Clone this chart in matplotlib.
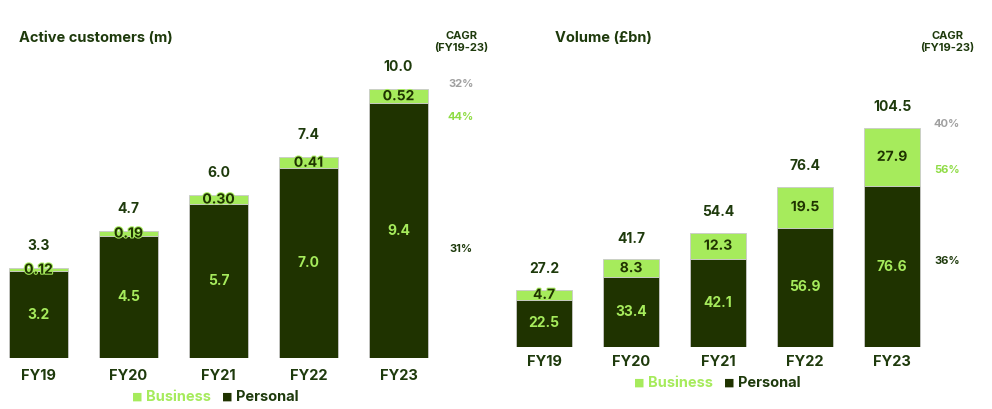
import matplotlib.pyplot as plt
import matplotlib.patheffects as pe
import numpy as np

plt.rcParams['font.family'] = ['Inter', 'DejaVu Sans']

years = ['FY19', 'FY20', 'FY21', 'FY22', 'FY23']

cust_personal = [3.2, 4.5, 5.7, 7.0, 9.4]
cust_business = [0.12, 0.19, 0.30, 0.41, 0.52]
cust_total = ['3.3', '4.7', '6.0', '7.4', '10.0']
cust_cagr = ['32%', '44%', '31%']

vol_personal = [22.5, 33.4, 42.1, 56.9, 76.6]
vol_business = [4.7, 8.3, 12.3, 19.5, 27.9]
vol_total = ['27.2', '41.7', '54.4', '76.4', '104.5']
vol_cagr = ['40%', '56%', '36%']

DARK = '#1f3300'
LIGHT = '#a6eb5c'
TEXT = '#1e3a0c'
GREY = '#a0a0a0'

W, H = 992, 409
fig = plt.figure(figsize=(W / 100, H / 100), dpi=100)


def px_axes(x0, x1, base, top):
    # pixel box (from top-left) -> figure fraction axes
    return fig.add_axes([x0 / W, (H - base) / H, (x1 - x0) / W, (base - top) / H])


def draw_panel(ax, personal, business, totals, width, bfmt, pfmt, total_off, tick_pad):
    x = np.arange(len(years))
    ax.bar(x, personal, width, color=DARK, edgecolor='#c9c9c9', linewidth=0.6)
    ax.bar(x, business, width, bottom=personal, color=LIGHT, edgecolor='#c9c9c9', linewidth=0.6)
    for i in x:
        p, b = personal[i], business[i]
        ax.text(i, p / 2, pfmt.format(p), ha='center', va='center',
                color=LIGHT, fontsize=10, fontweight='bold')
        ax.text(i, p + b / 2, bfmt.format(b), ha='center', va='center',
                color=DARK, fontsize=10, fontweight='bold',
                path_effects=[pe.withStroke(linewidth=1.5, foreground=LIGHT)])
        ax.text(i, p + b + total_off, totals[i], ha='center', va='bottom',
                color=TEXT, fontsize=10, fontweight='bold')
    ax.set_xticks(x)
    ax.set_xticklabels(years, fontsize=10.5, fontweight='bold', color=TEXT)
    ax.tick_params(axis='x', length=0, pad=tick_pad)
    ax.set_yticks([])
    for s in ax.spines.values():
        s.set_visible(False)


# left panel: active customers
ax1 = px_axes(0, 480, 358, 20)
draw_panel(ax1, cust_personal, cust_business, cust_total, 0.656,
           '{:.2f}', '{:.1f}', 0.55, 8)
ax1.set_xlim(-38.5 / 90, -38.5 / 90 + 480 / 90)
ax1.set_ylim(0, 338 / 27.1)

# right panel: volume
ax2 = px_axes(500, 992, 347, 20)
draw_panel(ax2, vol_personal, vol_business, vol_total, 0.644,
           '{:.1f}', '{:.1f}', 6.5, 6)
ax2.set_xlim((500 - 544) / 87, (992 - 544) / 87)
ax2.set_ylim(0, 327 / 2.1)

# titles
fig.text(19 / W, 1 - 38 / H, 'Active customers (m)', fontsize=10.5, fontweight='bold',
         color=TEXT, va='center', ha='left')
fig.text(555 / W, 1 - 38 / H, 'Volume (£bn)', fontsize=10.5, fontweight='bold',
         color=TEXT, va='center', ha='left')

# CAGR headers and values
cagr_colors = [GREY, '#8fdc45', TEXT]
for cx, hy, vals, ys in [(461, 42, cust_cagr, [84, 117, 249]),
                         (947, 42, vol_cagr, [124, 170, 261])]:
    fig.text(cx / W, 1 - hy / H, 'CAGR\n(FY19-23)', fontsize=8, fontweight='bold',
             color=TEXT, ha='center', va='center', linespacing=1.25)
    for v, y, c in zip(vals, ys, cagr_colors):
        fig.text(cx / W, 1 - y / H, v, fontsize=8, fontweight='bold',
                 color=c, ha='center', va='center')

# legends
for lx, ly in [(132, 397), (634, 383)]:
    fig.text(lx / W, 1 - ly / H, '■', fontsize=8, color=LIGHT, ha='left', va='center',
             family=['DejaVu Sans'])
    fig.text((lx + 14) / W, 1 - ly / H, 'Business', fontsize=10.5, fontweight='bold',
             color=LIGHT, ha='left', va='center')
    fig.text((lx + 90) / W, 1 - ly / H, '■', fontsize=8, color=DARK, ha='left', va='center',
             family=['DejaVu Sans'])
    fig.text((lx + 104) / W, 1 - ly / H, 'Personal', fontsize=10.5, fontweight='bold',
             color=TEXT, ha='left', va='center')

fig.savefig('out.png', dpi=100)
